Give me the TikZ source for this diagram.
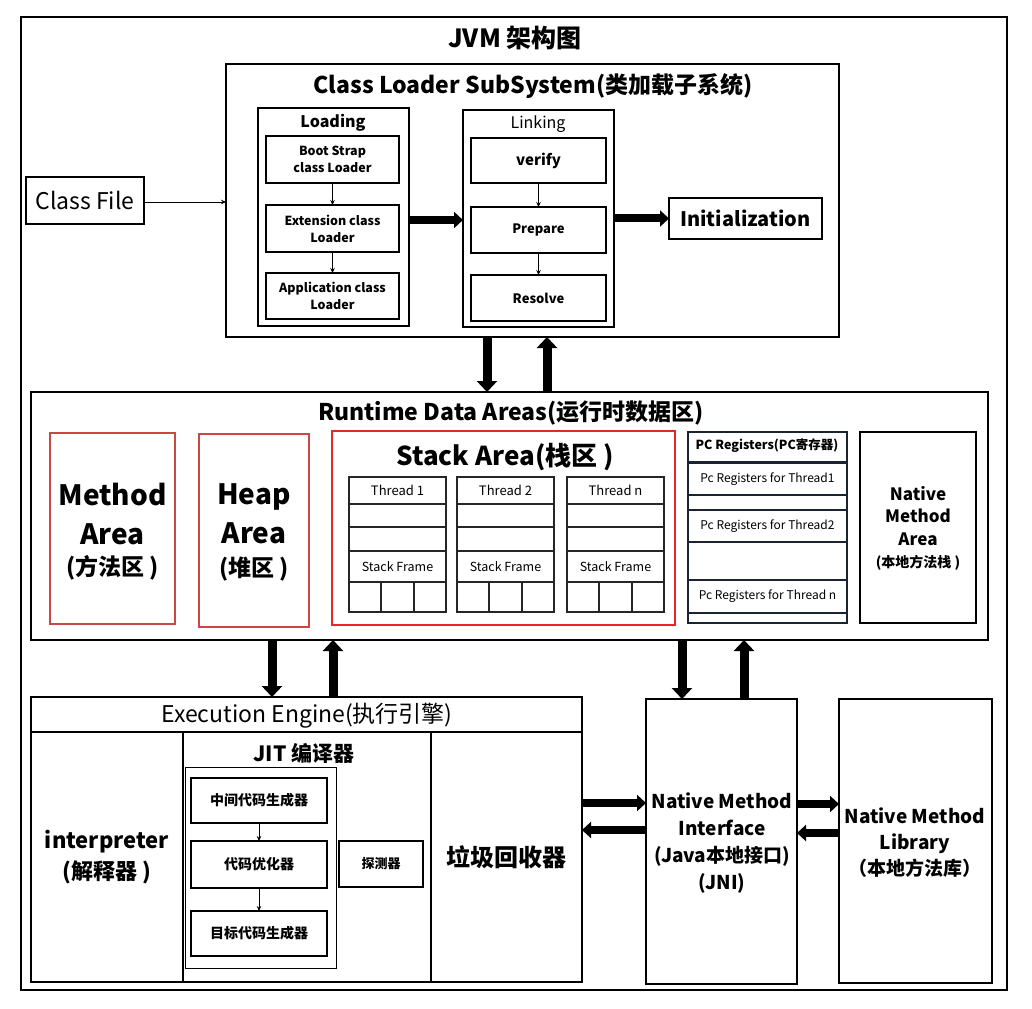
\documentclass[tikz,border=0pt]{standalone}
\usepackage{fontspec}
\setmainfont{Noto Sans CJK SC}
\usetikzlibrary{arrows.meta}

\definecolor{areared}{RGB}{205,70,70}
\definecolor{stackred}{RGB}{228,40,40}
\definecolor{pcline}{RGB}{25,35,50}

\tikzset{
	blockbox/.style={rectangle, draw=black, line width=2pt, inner sep=0pt, outer sep=0pt},
	innerbox/.style={rectangle, draw=black, line width=1.2pt, inner sep=0pt, outer sep=0pt, align=center},
	redarea/.style={rectangle, draw=areared, line width=1.3pt, inner sep=0pt, outer sep=0pt, align=center},
	threadcell/.style={rectangle, draw=black!85, line width=2pt, inner sep=0pt, outer sep=0pt, anchor=north west},
	pccell/.style={rectangle, draw=pcline, line width=2pt, inner sep=0pt, outer sep=0pt},
	label/.style={inner sep=0pt, align=center},
	bigarrow/.style={line width=9pt, -{Triangle[length=11pt,width=20pt]}},
	midarrow/.style={line width=8pt, -{Triangle[length=9pt,width=16pt]}},
	smallarrow/.style={line width=0.8pt, -{Stealth[length=5pt,width=4.5pt]}},
}

\newcommand{\fsz}[2]{\fontsize{#1}{#2}\selectfont}

\begin{document}
\begin{tikzpicture}[x=1pt, y=-1pt]
		\useasboundingbox (0,0) rectangle (1032,1008);
		
		% Outer frame
		\node[blockbox, minimum width=986pt, minimum height=973pt] (jvm) at (514,503.5) {};
		\node[label, font=\fsz{25}{30}\bfseries] (jvmtitle) at (515,38) {JVM 架构图};
		
		% Class loader subsystem
		\node[blockbox, minimum width=613pt, minimum height=273pt] (cl) at (532.5,200.5) {};
		\node[label, font=\fsz{23}{28}\bfseries] (cltitle) at (533,86) {Class Loader SubSystem(类加载子系统)};
		\node[innerbox, minimum width=118pt, minimum height=47pt, font=\fsz{23}{28}] (classfile) at (85,200.5) {Class File};
		
		\node[innerbox, minimum width=151pt, minimum height=218pt] (load) at (333.5,217) {};
		\node[label, font=\fsz{16}{20}\bfseries] (loadtitle) at (333,123) {Loading};
		\node[innerbox, minimum width=133pt, minimum height=47pt, font=\fsz{12.5}{17}\bfseries] (boot) at (332.5,159.5) {Boot Strap\\class Loader};
		\node[innerbox, minimum width=133pt, minimum height=47pt, font=\fsz{12.5}{17}\bfseries] (ext) at (332.5,228.5) {Extension class\\Loader};
		\node[innerbox, minimum width=133pt, minimum height=46pt, font=\fsz{12.5}{17}\bfseries] (app) at (332.5,296) {Application class\\Loader};
		
		\node[innerbox, minimum width=151pt, minimum height=217pt] (link) at (538.5,218.5) {};
		\node[label, font=\fsz{16}{20}] (linktitle) at (538,124) {Linking};
		\node[innerbox, minimum width=135pt, minimum height=45pt, font=\fsz{15}{18}\bfseries] (verify) at (538.5,160.5) {verify};
		\node[innerbox, minimum width=135pt, minimum height=46pt, font=\fsz{13}{16}\bfseries] (prep) at (538.5,230) {Prepare};
		\node[innerbox, minimum width=135pt, minimum height=46pt, font=\fsz{13}{16}\bfseries] (resolve) at (538.5,298) {Resolve};
		
		\node[innerbox, minimum width=153pt, minimum height=41pt, font=\fsz{20}{24}\bfseries] (init) at (745.5,218.5) {Initialization};
		
		% Connect class loader
		\draw[smallarrow] (classfile.east |- 0,202) -- (cl.west |- 0,202);
		\draw[smallarrow] (boot) -- (ext);
		\draw[smallarrow] (ext) -- (app);
		\draw[smallarrow] (verify) -- (prep);
		\draw[smallarrow] (prep) -- (resolve);
		\draw[midarrow] (load.east |- 0,220) -- (link.west |- 0,220);
		\draw[midarrow] (link.east |- 0,218.5) -- (init.west);
		
		% Runtime data areas
		\node[blockbox, minimum width=957pt, minimum height=248pt] (rt) at (509.5,516) {};
		\node[label, font=\fsz{23}{28}\bfseries] (rttitle) at (511,413) {Runtime Data Areas(运行时数据区)};
		\draw[bigarrow] (487,0 |- cl.south) -- (487,0 |- rt.north);
		\draw[bigarrow] (547,0 |- rt.north) -- (547,0 |- cl.south);
		
		\node[redarea, minimum width=125pt, minimum height=191pt] (method) at (112.5,528.5) {};
		\node[label, font=\fsz{28}{39}\bfseries] (methodtxt) at (112.5,514) {Method\\Area};
		\node[label, font=\fsz{23}{28}\bfseries] (methodsub) at (112.5,568) {(方法区 )};
		\node[redarea, minimum width=110pt, minimum height=193pt] (heap) at (254,530.5) {};
		\node[label, font=\fsz{28}{39}\bfseries] (heaptxt) at (254,514) {Heap\\Area};
		\node[label, font=\fsz{23}{28}\bfseries] (heapsub) at (254,569) {(堆区 )};
		
		% Stack area
		\node[rectangle, draw=stackred, line width=2pt, minimum width=343pt, minimum height=194pt] (stack) at (503.5,528) {};
		\node[label, font=\fsz{26}{30}\bfseries] (stacktitle) at (505,457) {Stack Area(栈区 )};
		\foreach \x/\name [count=\i] in {349/Thread 1,457/Thread 2,567/Thread n} {
			\node[threadcell, minimum width=97pt, minimum height=27pt, font=\fsz{13}{16}] (th\i) at (\x,477) {\name};
			\node[threadcell, minimum width=97pt, minimum height=23pt] (tha\i) at (\x,504) {};
			\node[threadcell, minimum width=97pt, minimum height=24pt] (thb\i) at (\x,527) {};
			\node[threadcell, minimum width=97pt, minimum height=31pt, font=\fsz{12.5}{15}] (sf\i) at (\x,551) {Stack Frame};
			\foreach \j in {0,1,2}
				\node[threadcell, minimum width=32.33pt, minimum height=30pt] (cell\i\j) at ({\x+\j*32.33},582) {};
		}
		
		% PC registers
		\node[innerbox, draw=pcline, minimum width=159pt, minimum height=191pt] (pc) at (767.5,527.5) {};
		\draw[line width=1.2pt, pcline] (pc.west |- 0,462) -- (pc.east |- 0,462);
		\node[label, font=\fsz{12.5}{15}\bfseries] (pctitle) at (767,446) {PC Registers(PC寄存器)};
		\node[pccell, minimum width=159pt, minimum height=32pt, font=\fsz{12}{15}] (pc1) at (767.5,479) {Pc Registers for Thread1};
		\node[pccell, minimum width=159pt, minimum height=32pt, font=\fsz{12}{15}] (pc2) at (767.5,526) {Pc Registers for Thread2};
		\node[pccell, minimum width=159pt, minimum height=33pt, font=\fsz{12}{15}] (pcn) at (767.5,596.5) {Pc Registers for Thread n};
		
		\node[innerbox, minimum width=116pt, minimum height=191pt] (nma) at (918,527.5) {};
		\node[label, font=\fsz{17}{22.5}\bfseries] (nmatxt) at (918,516) {Native\\Method\\Area};
		\node[label, font=\fsz{14}{17}\bfseries] (nmasub) at (918,563) {(本地方法栈 )};
		
		% Execution engine
		\node[blockbox, minimum width=551pt, minimum height=285pt] (ee) at (306.5,839.5) {};
		\node[label, font=\fsz{23}{28}] (eetitle) at (307,716) {Execution Engine(执行引擎)};
		\draw[line width=2pt] (ee.west |- 0,732) -- (ee.east |- 0,732);
		\draw[line width=2pt] (183,732) -- (183,0 |- ee.south);
		\draw[line width=2pt] (430.5,732) -- (430.5,0 |- ee.south);
		\draw[bigarrow] (272,0 |- rt.south) -- (272,0 |- ee.north);
		\draw[bigarrow] (333,0 |- ee.north) -- (333,0 |- rt.south);
		
		\node[label, font=\fsz{22}{31}\bfseries] (interp) at (107,857) {interpreter\\(解释器 )};
		\node[label, font=\fsz{21}{25}\bfseries] (jittitle) at (304,753) {JIT 编译器};
		\node[innerbox, line width=1pt, minimum width=151pt, minimum height=201pt] (jit) at (260.5,867.5) {};
		\node[innerbox, minimum width=136pt, minimum height=45pt, font=\fsz{14}{17}\bfseries] (mid) at (259,800.5) {中间代码生成器};
		\node[innerbox, minimum width=136pt, minimum height=47pt, font=\fsz{14}{17}\bfseries] (opt) at (259,864.5) {代码优化器};
		\node[innerbox, minimum width=136pt, minimum height=45pt, font=\fsz{14}{17}\bfseries] (tgt) at (259,933.5) {目标代码生成器};
		\node[innerbox, minimum width=84pt, minimum height=46pt, font=\fsz{13}{16}\bfseries] (probe) at (381,864) {探测器};
		\draw[smallarrow] (mid) -- (opt);
		\draw[smallarrow] (opt) -- (tgt);
		\node[label, font=\fsz{24}{28}\bfseries] (gc) at (506,857) {垃圾回收器};
		
		% Native method interface / library
		\node[blockbox, minimum width=151pt, minimum height=285pt, align=center] (nmi) at (721.5,841.5) {};
		\node[label, font=\fsz{19}{27}\bfseries] (nmitxt) at (722,843) {Native Method\\Interface\\(Java本地接口)\\(JNI)};
		\node[blockbox, minimum width=153pt, minimum height=284pt] (nml) at (915.5,841) {};
		\node[label, font=\fsz{19}{26}\bfseries] (nmltxt) at (915,843) {Native Method\\Library\\（本地方法库）};
		
		% Connect
		\draw[bigarrow] (682,0 |- rt.south) -- (682,0 |- nmi.north);
		\draw[bigarrow] (744,0 |- nmi.north) -- (744,0 |- rt.south);
		\draw[midarrow] (ee.east |- 0,803) -- (nmi.west |- 0,803);
		\draw[midarrow] (nmi.west |- 0,830) -- (ee.east |- 0,830);
		\draw[midarrow] (nmi.east |- 0,804) -- (nml.west |- 0,804);
		\draw[midarrow] (nml.west |- 0,833) -- (nmi.east |- 0,833);
		
	\end{tikzpicture}
\end{document}
